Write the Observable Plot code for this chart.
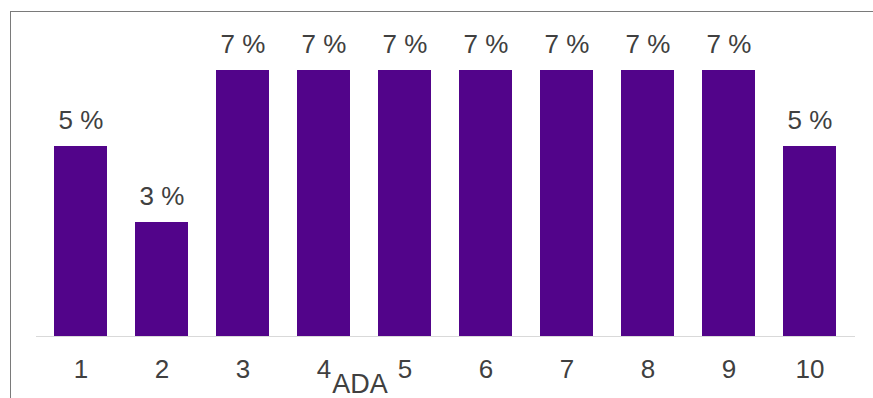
<!DOCTYPE html>
<html>
<head>
<meta charset="utf-8">
<script src="https://cdn.jsdelivr.net/npm/d3@7"></script>
<script src="https://cdn.jsdelivr.net/npm/@observablehq/plot@0.6"></script>
<style>
  html, body { margin: 0; padding: 0; background: #fff; }
  #wrap { position: relative; width: 873px; height: 398px; overflow: hidden; }
  #frame {
    position: absolute; left: 10px; top: 11px; right: -2px; bottom: -2px;
    border-left: 1.5px solid #7a7a7a; border-top: 1.5px solid #7a7a7a;
  }
  #chart { position: absolute; left: 0; top: 0; }
</style>
</head>
<body>
<div id="wrap"><div id="frame"></div><div id="chart"></div></div>
<script>
// Share per category (percent)
const categories = ["1", "2", "3", "4", "5", "6", "7", "8", "9", "10"];
const shares = [5, 3, 7, 7, 7, 7, 7, 7, 7, 5];
const axisTitle = "ADA";

const rows = categories.map((c, i) => ({category: c, share: shares[i]}));

const barColor = "#52048a";
const textColor = "#404040";

const chart = Plot.plot({
  width: 873,
  height: 398,
  marginTop: 70,
  marginBottom: 62,
  marginLeft: 36,
  marginRight: 18,
  style: {fontFamily: "'Liberation Sans', Arial, sans-serif", background: "transparent"},
  x: {domain: categories, paddingInner: 0.34, paddingOuter: 0.2255, label: null},
  y: {domain: [0, 7], axis: null},
  marks: [
    Plot.barY(rows, {x: "category", y: "share", fill: barColor}),
    Plot.ruleY([0], {stroke: "#d9d9d9", strokeWidth: 1}),
    Plot.text(rows, {
      x: "category", y: "share", text: d => `${d.share} %`,
      lineAnchor: "bottom", dy: -18, fontSize: 26, fill: textColor
    }),
    Plot.axisX({tickSize: 0, tickPadding: 23, fontSize: 26, color: textColor, label: null}),
    Plot.text([axisTitle], {
      frameAnchor: "bottom", dx: -86, dy: 56, lineAnchor: "bottom",
      fontSize: 27, fill: textColor
    })
  ]
});

document.getElementById("chart").appendChild(chart);
</script>
</body>
</html>
